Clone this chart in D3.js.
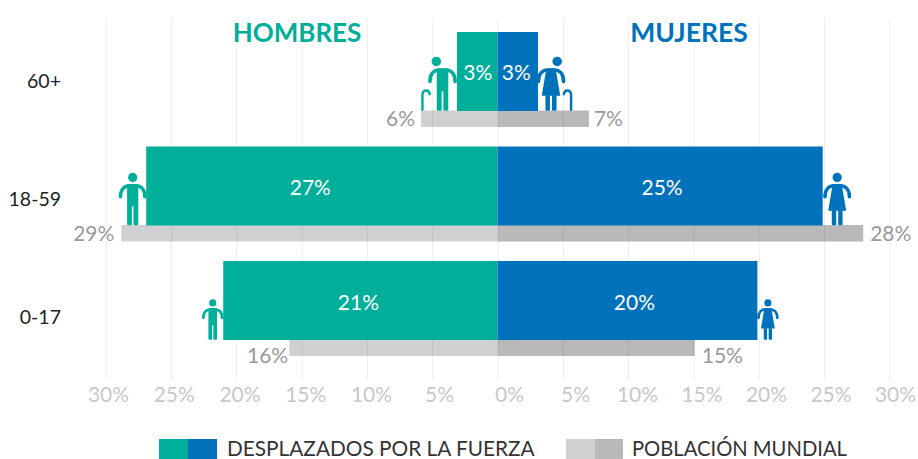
<!DOCTYPE html>
<html><head><meta charset="utf-8">
<script src="https://cdn.jsdelivr.net/npm/d3@7"></script>
<style>html,body{margin:0;background:#fff}svg{display:block}text{font-family:Lato,"Open Sans",sans-serif}</style>
</head><body><div id="c"></div>
<script>
const ages = ["60+","18-59","0-17"];
const menDisplaced = [3.1,26.9,21];
const womenDisplaced = [3.1,24.9,19.9];
const menWorld = [5.85,28.8,15.95];
const womenWorld = [7,28,15.1];
const menDisplacedLabels = ["3%","27%","21%"];
const womenDisplacedLabels = ["3%","25%","20%"];
const menWorldLabels = ["6%","29%","16%"];
const womenWorldLabels = ["7%","28%","15%"];
const axisTicks = [-30,-25,-20,-15,-10,-5,0,5,10,15,20,25,30];
const legendLabels = ["DESPLAZADOS POR LA FUERZA","POBLACIÓN MUNDIAL"];

const teal="#00AF9A",blue="#0072BC",lightGrey="#D0D0D2",darkGrey="#B9B9BC";
const W=918,H=459;
const svg=d3.select("#c").append("svg").attr("width",W).attr("height",H);
const x=d3.scaleLinear().domain([-30,30]).range([105.7,889.3]);
const tickX=d3.scaleLinear().domain([-30,-10,-5,0,5,10,30]).range([108,371,439,509,575,637,895]);
const y=d3.scaleBand().domain(ages).range([32,356.5]).paddingInner(0.166);
const barH=79,worldH=16.5;
const labelY=d3.scalePoint().domain(ages).range([80,316]);
const idx=d3.range(ages.length);

// world bars
const world=svg.append("g");
world.selectAll("rect.m").data(idx).join("rect").attr("x",i=>x(-menWorld[i])).attr("width",i=>x(0)-x(-menWorld[i]))
 .attr("y",i=>y(ages[i])+barH-.5).attr("height",worldH).attr("fill",lightGrey);
world.selectAll("rect.w").data(idx).join("rect").attr("class","w").attr("x",x(0)).attr("width",i=>x(womenWorld[i])-x(0))
 .attr("y",i=>y(ages[i])+barH-.5).attr("height",worldH).attr("fill",darkGrey);

// grid
const grid=svg.append("g").attr("transform","translate(0,380)")
 .call(d3.axisBottom(x).tickValues(axisTicks).tickSize(-362).tickFormat(""));
grid.select(".domain").remove();
grid.selectAll("line").attr("stroke","#000").attr("stroke-opacity",.07);

// displaced bars
const bars=svg.append("g");
bars.selectAll("rect.m").data(idx).join("rect").attr("class","m").attr("x",i=>x(-menDisplaced[i])).attr("width",i=>x(0)-x(-menDisplaced[i]))
 .attr("y",i=>y(ages[i])).attr("height",barH).attr("fill",teal);
bars.selectAll("rect.w").data(idx).join("rect").attr("class","w").attr("x",x(0)).attr("width",i=>x(womenDisplaced[i])-x(0))
 .attr("y",i=>y(ages[i])).attr("height",barH).attr("fill",blue);

// person glyphs: origin at feet centre
function person(g,color,female,cane){
  g.append("circle").attr("cx",cane?(female?6:-6):0).attr("cy",-47.8).attr("r",4.6).attr("fill",color);
  g.append("path").attr("fill","none").attr("stroke",color).attr("stroke-width",3.6).attr("stroke-linecap","round")
   .attr("d","M-12.2,-28.5C-12.2,-36 -8,-39.5 -3,-39.5L3,-39.5C8,-39.5 12.2,-36 12.2,-28.5");
  if(female){
    g.append("path").attr("fill",color).attr("d","M-4.5,-41L4.5,-41L9,-14.5L-9,-14.5Z");
    g.append("path").attr("fill",color).attr("d","M-5.4,-15H-1V-1.2Q-1,0 -2.2,0H-4.2Q-5.4,0 -5.4,-1.2ZM1,-15H5.4V-1.2Q5.4,0 4.2,0H2.2Q1,0 1,-1.2Z");
  } else {
    g.append("path").attr("fill",color).attr("d","M-5.6,-41H5.6V-1.2Q5.6,0 4.4,0H1.9Q.8,0 .8,-1.2V-19H-.8V-1.2Q-.8,0 -1.9,0H-4.4Q-5.6,0 -5.6,-1.2Z");
  }
  if(cane){
    const s=female?1:-1;
    g.append("path").attr("fill","none").attr("stroke",color).attr("stroke-width",2.4).attr("stroke-linecap","round")
     .attr("d",`M${s*19.5},-1V-15C${s*19.5},-21 ${s*13},-21 ${s*12.5},-16`);
  }
}
const icons=[
 {side:-1,v:menDisplaced[0],off:-14.5,i:0,s:1.03,f:false,c:true},
 {side:1,v:womenDisplaced[0],off:13,i:0,s:1.03,f:true,c:true},
 {side:-1,v:menDisplaced[1],off:-13.5,i:1,s:1,f:false,c:false},
 {side:1,v:womenDisplaced[1],off:14.5,i:1,s:1,f:true,c:false},
 {side:-1,v:menDisplaced[2],off:-10.5,i:2,s:.77,f:false,c:false},
 {side:1,v:womenDisplaced[2],off:10.5,i:2,s:.77,f:true,c:false}];
icons.forEach(d=>{
  const g=svg.append("g").attr("transform",`translate(${x(d.side*d.v)+d.off},${y(ages[d.i])+barH-.3}) scale(${d.s})`);
  person(g,d.side<0?teal:blue,d.f,d.c);
});

// titles
const t=(txt,px,py,size,fill,weight,anchor)=>svg.append("text").attr("x",px).attr("y",py).attr("font-size",size).attr("fill",fill).attr("font-weight",weight||400).attr("text-anchor",anchor||"middle").attr("dominant-baseline","central").text(txt);
t("HOMBRES",297,32,26,teal,700);
t("MUJERES",689,32,26.5,blue,700);

// age labels
svg.selectAll("text.age").data(ages).join("text").attr("class","age").attr("x",61).attr("y",d=>labelY(d)).attr("text-anchor","end")
 .attr("dominant-baseline","central").attr("font-size",19.5).attr("fill","#222").text(d=>d);

// value labels
const nudgeM=[0.5,-11.5,-2],nudgeW=[-1.5,2,7];
const valueDy=[39,40,40], worldDy=[6.5,6.5,14];
const worldGapM=[6,7,1], worldGapW=[5,7,7];
idx.forEach(i=>{
  t(menDisplacedLabels[i],(x(-menDisplaced[i])+x(0))/2+nudgeM[i],y(ages[i])+valueDy[i],21,"#fff");
  t(womenDisplacedLabels[i],(x(womenDisplaced[i])+x(0))/2+nudgeW[i],y(ages[i])+valueDy[i],21,"#fff");
  t(menWorldLabels[i],x(-menWorld[i])-worldGapM[i],y(ages[i])+barH+worldDy[i],21,"#999",400,"end");
  t(womenWorldLabels[i],x(womenWorld[i])+worldGapW[i],y(ages[i])+barH+worldDy[i],21,"#999",400,"start");
});

// axis labels
const ax=svg.append("g").attr("transform","translate(0,387)")
 .call(d3.axisBottom(tickX).tickValues(axisTicks).tickSize(0).tickPadding(0).tickFormat(d=>Math.abs(d)+"%"));
ax.select(".domain").remove();
ax.selectAll("text").attr("font-size",21).attr("fill","#c8c8ca").attr("font-family",null);

// legend
const leg=svg.append("g");
[[159,188,teal,blue,227,20.8],[566,594.5,lightGrey,darkGrey,632,20.2]].forEach((d,k)=>{
  leg.append("rect").attr("x",d[0]).attr("y",439).attr("width",d[1]-d[0]).attr("height",20).attr("fill",d[2]);
  leg.append("rect").attr("x",d[1]).attr("y",439).attr("width",d[1]-d[0]).attr("height",20).attr("fill",d[3]);
  t(legendLabels[k],d[4],447.5,d[5],"#333",400,"start");
});
</script></body></html>
